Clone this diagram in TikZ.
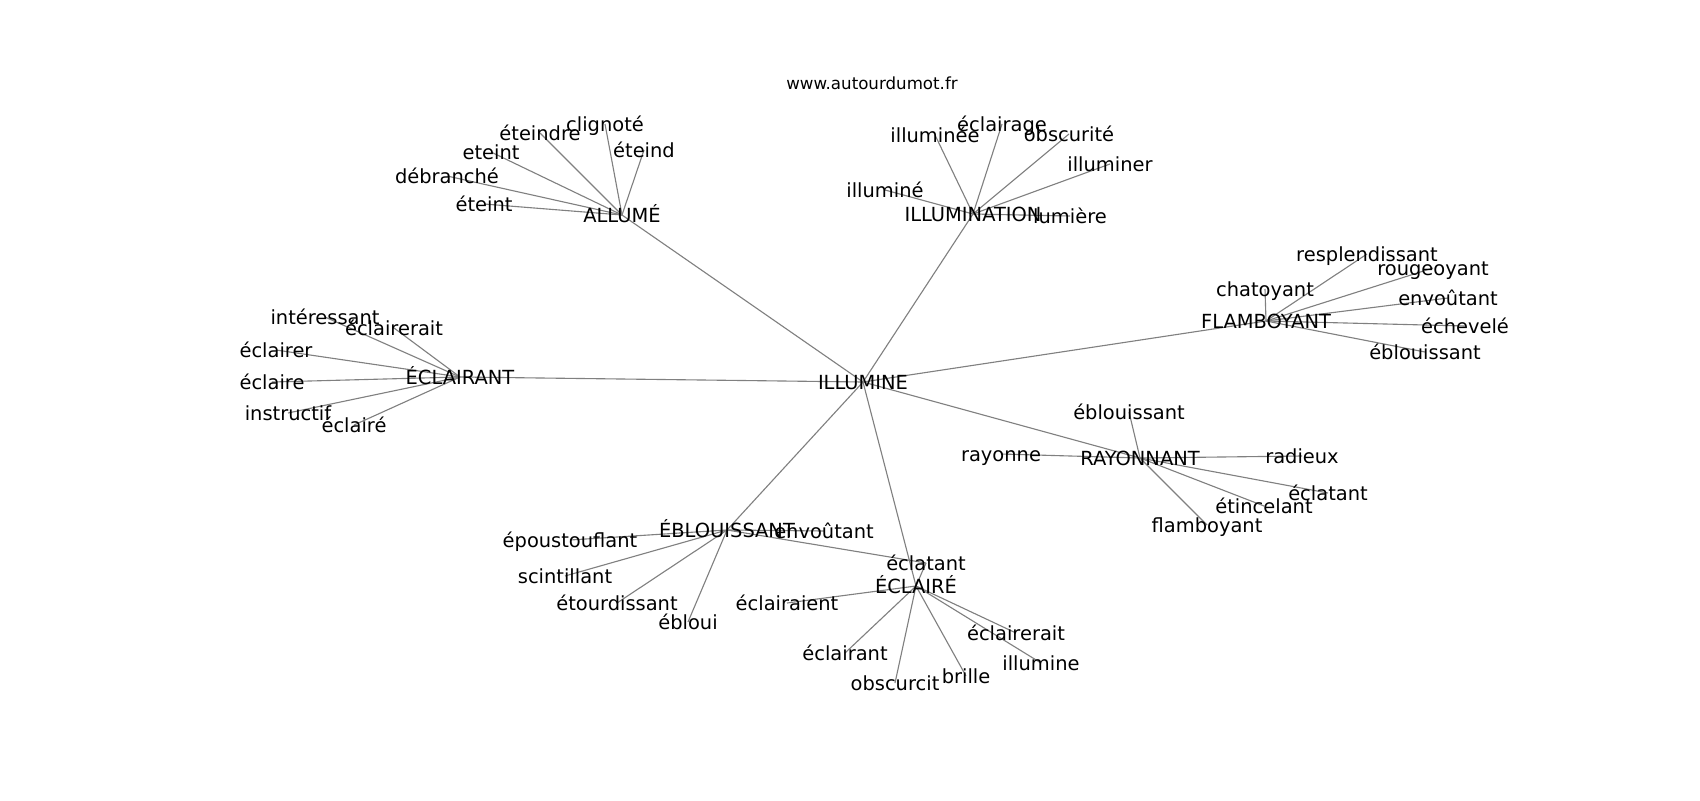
\documentclass[tikz,border=0pt]{standalone}
\usepackage{fontspec}
\setmainfont{DejaVu Sans}
\begin{document}
\begin{tikzpicture}[x=0.72pt,y=-0.72pt,
  lbl/.style={inner sep=0pt,font=\fontsize{14}{16}\selectfont,text height=0.73em,text depth=0.24em,anchor=center,yshift=-2.6pt},
  ttl/.style={inner sep=0pt,font=\fontsize{12}{14}\selectfont,anchor=center},
  edge/.style={draw=gray,line width=0.8pt}]
\useasboundingbox (0,0) rectangle (1700,800);
\fill[white] (0,0) rectangle (1700,800);
\node[ttl] (title) at (872,83) {www.autourdumot.fr};
% coordinates for node positions
\foreach \n/\x/\y in {c/863/382, al/622/215, il/973/214, fl/1266/321, ec/460/377, ra/1140/458, eb/727/530, ecl/916/586,
  al1/484/204, al2/447/176, al3/491/152, al4/540/133, al5/605/124, al6/644/150,
  il1/935/135, il2/1002/124, il3/1069/134, il4/1110/164, il5/885/190, il6/1070/216,
  fl1/1265/289, fl2/1367/254, fl3/1433/268, fl4/1448/298, fl5/1465/326, fl6/1425/352,
  ec1/325/317, ec2/394/328, ec3/276/350, ec4/272/382, ec5/288/413, ec6/354/425,
  ra1/1129/412, ra2/1001/454, ra3/1302/456, ra4/1328/493, ra5/1264/506, ra6/1207/525,
  eb1/570/540, eb2/565/576, eb3/617/603, eb4/688/622, eb5/824/531, ecl1/926/563,
  ecl2/787/603, ecl3/845/653, ecl4/895/683, ecl5/966/676, ecl6/1016/633, ecl7/1041/663}
  {\coordinate (p\n) at (\x,\y);}
% edges
\foreach \a in {al,il,fl,ec,ra,eb,ecl} {\draw[edge] (pc) -- (p\a);}
\foreach \a in {al1,al2,al3,al4,al5,al6} {\draw[edge] (pal) -- (p\a);}
\foreach \a in {il1,il2,il3,il4,il5,il6} {\draw[edge] (pil) -- (p\a);}
\foreach \a in {fl1,fl2,fl3,fl4,fl5,fl6} {\draw[edge] (pfl) -- (p\a);}
\foreach \a in {ec1,ec2,ec3,ec4,ec5,ec6} {\draw[edge] (pec) -- (p\a);}
\foreach \a in {ra1,ra2,ra3,ra4,ra5,ra6} {\draw[edge] (pra) -- (p\a);}
\foreach \a in {eb1,eb2,eb3,eb4,eb5,ecl1} {\draw[edge] (peb) -- (p\a);}
\foreach \a in {ecl1,ecl2,ecl3,ecl4,ecl5,ecl6,ecl7} {\draw[edge] (pecl) -- (p\a);}
% labels
\node[lbl] (c) at (pc) {ILLUMINE};
\node[lbl] (al) at (pal) {ALLUMÉ};
\node[lbl] (il) at (pil) {ILLUMINATION};
\node[lbl] (fl) at (pfl) {FLAMBOYANT};
\node[lbl] (ec) at (pec) {ÉCLAIRANT};
\node[lbl] (ra) at (pra) {RAYONNANT};
\node[lbl] (eb) at (peb) {ÉBLOUISSANT};
\node[lbl] (ecl) at (pecl) {ÉCLAIRÉ};
\node[lbl] (al1) at (pal1) {éteint};
\node[lbl] (al2) at (pal2) {débranché};
\node[lbl] (al3) at (pal3) {eteint};
\node[lbl] (al4) at (pal4) {éteindre};
\node[lbl] (al5) at (pal5) {clignoté};
\node[lbl] (al6) at (pal6) {éteind};
\node[lbl] (il1) at (pil1) {illuminée};
\node[lbl] (il2) at (pil2) {éclairage};
\node[lbl] (il3) at (pil3) {obscurité};
\node[lbl] (il4) at (pil4) {illuminer};
\node[lbl] (il5) at (pil5) {illuminé};
\node[lbl] (il6) at (pil6) {lumière};
\node[lbl] (fl1) at (pfl1) {chatoyant};
\node[lbl] (fl2) at (pfl2) {resplendissant};
\node[lbl] (fl3) at (pfl3) {rougeoyant};
\node[lbl] (fl4) at (pfl4) {envoûtant};
\node[lbl] (fl5) at (pfl5) {échevelé};
\node[lbl] (fl6) at (pfl6) {éblouissant};
\node[lbl] (ec1) at (pec1) {intéressant};
\node[lbl] (ec2) at (pec2) {éclairerait};
\node[lbl] (ec3) at (pec3) {éclairer};
\node[lbl] (ec4) at (pec4) {éclaire};
\node[lbl] (ec5) at (pec5) {instructif};
\node[lbl] (ec6) at (pec6) {éclairé};
\node[lbl] (ra1) at (pra1) {éblouissant};
\node[lbl] (ra2) at (pra2) {rayonne};
\node[lbl] (ra3) at (pra3) {radieux};
\node[lbl] (ra4) at (pra4) {éclatant};
\node[lbl] (ra5) at (pra5) {étincelant};
\node[lbl] (ra6) at (pra6) {flamboyant};
\node[lbl] (eb1) at (peb1) {époustouflant};
\node[lbl] (eb2) at (peb2) {scintillant};
\node[lbl] (eb3) at (peb3) {étourdissant};
\node[lbl] (eb4) at (peb4) {ébloui};
\node[lbl] (eb5) at (peb5) {envoûtant};
\node[lbl] (ecl1) at (pecl1) {éclatant};
\node[lbl] (ecl2) at (pecl2) {éclairaient};
\node[lbl] (ecl3) at (pecl3) {éclairant};
\node[lbl] (ecl4) at (pecl4) {obscurcit};
\node[lbl] (ecl5) at (pecl5) {brille};
\node[lbl] (ecl6) at (pecl6) {éclairerait};
\node[lbl] (ecl7) at (pecl7) {illumine};
\end{tikzpicture}
\end{document}
